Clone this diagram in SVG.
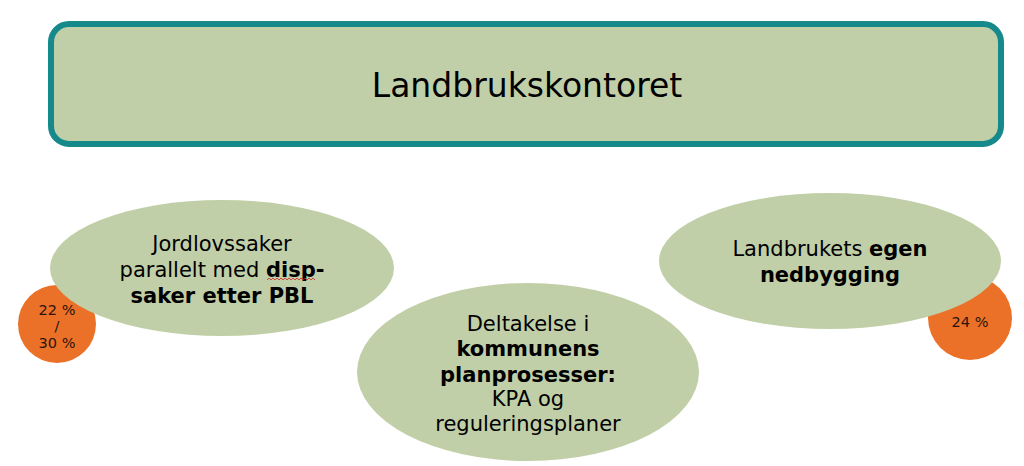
<svg xmlns="http://www.w3.org/2000/svg" width="1024" height="466" viewBox="0 0 1024 466">
<style>
.g{fill:#c0cfa8}
.o{fill:#ec7128}
.t{font-family:"DejaVu Sans",Verdana,sans-serif;font-size:21px;fill:#000;text-anchor:middle}
.b{font-weight:bold}
.s{font-family:"DejaVu Sans",Verdana,sans-serif;font-size:14.5px;fill:#2a1408;text-anchor:middle}
</style>
<rect width="1024" height="466" fill="#fff"/>
<g id="header">
<rect x="51" y="24" width="950" height="120" rx="18" fill="#c0cfa8" stroke="#16898b" stroke-width="6"/>
<text x="527" y="97" style="font-family:'DejaVu Sans',Verdana,sans-serif;font-size:33px;text-anchor:middle">Landbrukskontoret</text>
</g>
<g id="pct1">
<circle class="o" cx="57" cy="324" r="39"/>
<text class="s" x="57" y="315">22 %</text>
<text class="s" x="57" y="331">/</text>
<text class="s" x="57" y="348">30 %</text>
</g>
<g id="pct2">
<circle class="o" cx="970" cy="318" r="42"/>
<text class="s" x="970" y="327">24 %</text>
</g>
<g id="node1">
<ellipse class="g" cx="222" cy="268" rx="172" ry="68"/>
<text class="t" x="222" y="251">Jordlovssaker</text>
<text class="t" x="222" y="277">parallelt med <tspan class="b">disp-</tspan></text>
<text class="t b" x="222" y="303">saker etter PBL</text>
<path d="M267 280 l2 -2 l2 2 l2 -2 l2 2 l2 -2 l2 2 l2 -2 l2 2 l2 -2 l2 2 l2 -2 l2 2 l2 -2 l2 2 l2 -2 l2 2 l2 -2 l2 2 l2 -2 l2 2 l2 -2 l2 2 l2 -2 l2 2" fill="none" stroke="#d02020" stroke-width="0.8"/>
</g>
<g id="node2">
<ellipse class="g" cx="528" cy="372" rx="171" ry="89"/>
<text class="t" x="528" y="331">Deltakelse i</text>
<text class="t b" x="528" y="356">kommunens</text>
<text class="t b" x="528" y="382">planprosesser:</text>
<text class="t" x="528" y="406">KPA og</text>
<text class="t" x="528" y="431">reguleringsplaner</text>
</g>
<g id="node3">
<ellipse class="g" cx="830" cy="261" rx="171" ry="68"/>
<text class="t" x="830" y="256">Landbrukets <tspan class="b">egen</tspan></text>
<text class="t b" x="830" y="282">nedbygging</text>
</g>
<g id="connectors"/>
</svg>
